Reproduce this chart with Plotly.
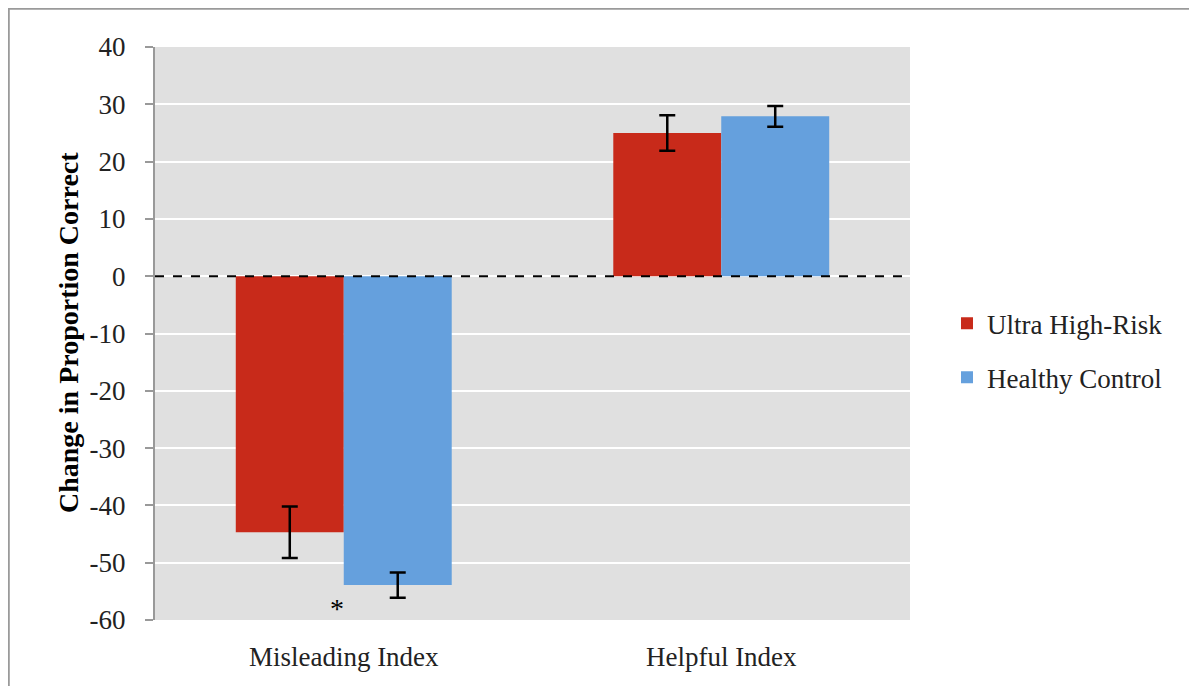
import plotly.graph_objects as go

categories = ["Misleading Index", "Helpful Index"]
uhr_values = [-44.7, 25.0]
uhr_err = [4.5, 3.1]
hc_values = [-53.9, 27.9]
hc_err = [2.2, 1.8]
y_ticks = [40, 30, 20, 10, 0, -10, -20, -30, -40, -50, -60]
y_tick_text = ["40", "30", "20", "10", "0", "-10", "-20", "-30", "-40", "-50", "-60"]

FONT = "Liberation Serif"

fig = go.Figure()
fig.add_trace(go.Bar(
    x=categories, y=uhr_values, name="Ultra High-Risk",
    marker=dict(color="#C82A1A", line=dict(width=0)),
    error_y=dict(type="data", array=uhr_err, color="black", thickness=2.5, width=8),
    legendgroup="a",
))
fig.add_trace(go.Bar(
    x=categories, y=hc_values, name="Healthy Control",
    marker=dict(color="#65A0DD", line=dict(width=0)),
    error_y=dict(type="data", array=hc_err, color="black", thickness=2.5, width=8),
    legendgroup="b",
))

fig.add_shape(type="line", xref="paper", yref="y", x0=0, x1=1, y0=0, y1=0,
              line=dict(color="black", width=2, dash="dash"), layer="above")
# outer frame
fig.add_shape(type="rect", xref="paper", yref="paper",
              x0=-0.1940, x1=1.377, y0=-0.2, y1=1.067,
              line=dict(color="#9a9a9a", width=2.5), layer="below")

fig.add_annotation(x=categories[0], y=-58.0, text="*", showarrow=False,
                   xshift=-7, font=dict(family=FONT, size=28, color="black"))

fig.update_layout(
    width=1189, height=678,
    margin=dict(l=147, r=287, t=39, b=66),
    paper_bgcolor="white", plot_bgcolor="#E0E0E0",
    barmode="group", bargap=0.428, bargroupgap=0,
    font=dict(family=FONT, color="#222", size=21),
    showlegend=True,
    legend=dict(x=1.049, y=0.47, xanchor="left", yanchor="middle",
                font=dict(family=FONT, size=27, color="#222"),
                tracegroupgap=16, bgcolor="rgba(0,0,0,0)"),
    xaxis=dict(showgrid=False, showline=False, ticks="",
               ticklabelstandoff=18,
               tickfont=dict(family=FONT, size=27, color="#222")),
    yaxis=dict(range=[-60, 40], tickvals=y_ticks, ticktext=y_tick_text,
               showgrid=True,
               gridcolor="white", gridwidth=2, zeroline=False,
               showline=True, linecolor="#999", linewidth=2,
               ticks="outside", ticklen=8, tickcolor="#999", tickwidth=2,
               ticklabelstandoff=14,
               tickfont=dict(family=FONT, size=27, color="#222")),
)
fig.add_annotation(xref="paper", yref="paper", x=(68 - 155) / 755, y=(620 - 333) / 573,
                   text="<b>Change in Proportion Correct</b>", textangle=-90,
                   showarrow=False, xanchor="center", yanchor="middle",
                   font=dict(family=FONT, size=28, color="black"))

fig.write_html("out.html")
